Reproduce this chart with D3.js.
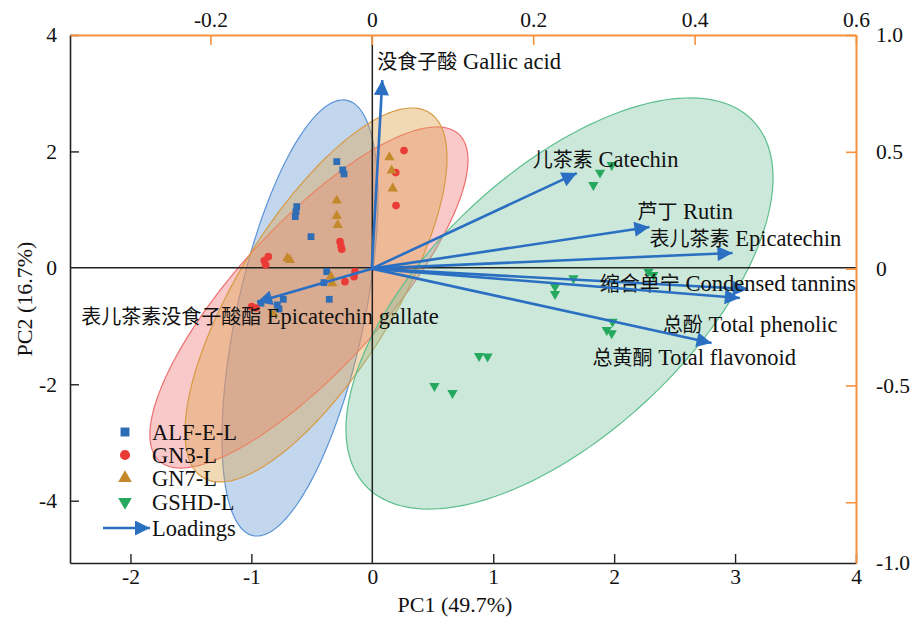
<!DOCTYPE html>
<html>
<head>
<meta charset="utf-8">
<script src="https://cdn.jsdelivr.net/npm/d3@7"></script>
<style>
  body { margin: 0; background: #fff; }
  text { font-family: "Liberation Serif", "Times New Roman", "Noto Sans CJK SC", serif; }
</style>
</head>
<body>
<svg id="chart" width="911" height="617"></svg>
<script>
// scores (PC1, PC2) per group
const groups = ["ALF-E-L", "GN3-L", "GN7-L", "GSHD-L"];
const alfPC1 = [-0.294, -0.245, -0.234, -0.625, -0.631, -0.637, -0.507, -0.377, -0.400, -0.356, -0.736, -0.786, -0.921, -0.772];
const alfPC2 = [1.825, 1.682, 1.613, 1.052, 0.966, 0.880, 0.536, -0.065, -0.254, -0.540, -0.540, -0.637, -0.608, -0.706];
const gn3PC1 = [0.262, 0.194, 0.196, -0.267, -0.259, -0.253, -0.860, -0.893, -0.882, -0.143, -0.151, -0.226, -0.998, -0.962];
const gn3PC2 = [2.014, 1.636, 1.069, 0.450, 0.376, 0.320, 0.192, 0.124, 0.050, -0.065, -0.151, -0.237, -0.667, -0.689];
const gn7PC1 = [0.141, 0.160, 0.169, -0.294, -0.294, -0.286, -0.703, -0.681, -0.342, -0.331, -0.879, -0.817];
const gn7PC2 = [1.900, 1.670, 1.364, 1.155, 0.892, 0.737, 0.165, 0.136, -0.151, -0.265, -0.552, -0.792];
const gshdPC1 = [1.883, 1.980, 1.828, 2.283, 2.324, 1.663, 1.511, 1.511, 1.987, 1.939, 1.980, 0.883, 0.953, 0.514, 0.663];
const gshdPC2 = [1.636, 1.768, 1.424, -0.065, -0.122, -0.179, -0.323, -0.448, -0.924, -1.067, -1.124, -1.514, -1.522, -2.029, -2.149];

// confidence ellipses: centre and shape matrix (PC units)
const ellCx  = [-0.598, -0.524, -0.466, 1.548];
const ellCy  = [-0.861, -0.509, -0.466, -0.612];
const ellSxx = [0.416, 1.730, 1.174, 3.118];
const ellSyy = [14.03, 8.583, 10.32, 12.47];
const ellSxy = [1.332, 3.102, 2.551, 3.811];

// loadings
const loadCn = ["没食子酸", "儿茶素", "芦丁", "表儿茶素", "缩合单宁", "总酚", "总黄酮", "表儿茶素没食子酸酯"];
const loadEn = ["Gallic acid", "Catechin", "Rutin", "Epicatechin", "Condensed tannins", "Total phenolic", "Total flavonoid", "Epicatechin gallate"];
const loadPC1 = [0.013, 0.254, 0.344, 0.447, 0.466, 0.456, 0.421, -0.142];
const loadPC2 = [0.807, 0.409, 0.178, 0.067, -0.087, -0.126, -0.318, -0.143];

const xTicks = [-2, -1, 0, 1, 2, 3, 4];
const yTicks = [-4, -2, 0, 2, 4];
const topTicks = [-0.2, 0, 0.2, 0.4, 0.6];
const rightTicks = [1, 0.5, 0, -0.5, -1];

// label offsets from arrow tip (px)
const labelOffsets = [[-5, -17], [-44, -12], [-12, -14], [-83, -13], [-148, -4], [-77, 28], [-119, 16], [-176, 16]];

const fills   = ["#6ea0d7", "#f07f7f", "#e0a550", "#82c8a7"];
const strokes = ["#5b93d6", "#ee6f6f", "#d69a45", "#5cbf8c"];
const markCol = ["#2f6db5", "#eb3b36", "#c4892b", "#25a95f"];
const arrowCol = "#2a6fc2";
const orange = "#f5923e";

const mLeft = 70, mRight = 856, mTop = 35, mBottom = 563;
const svg = d3.select("#chart");

const x = d3.scaleLinear().domain([-2.5, 4]).range([mLeft, mRight]);
const y = d3.scaleLinear().domain([-5.07, 4]).range([mBottom, mTop]);
const xl = d3.scaleLinear().domain([-0.374, 0.6]).range([mLeft, mRight]);
const yl = d3.scaleLinear().domain([-1.26, 1.0]).range([mBottom, mTop]);

// ellipses
const ellG = svg.append("g");
groups.forEach((g, i) => {
  const a = Math.sqrt(ellSxx[i]);
  const b = ellSxy[i] / a;
  const c = Math.sqrt(ellSyy[i] - b * b);
  const pts = d3.range(0, 2 * Math.PI, Math.PI / 90).map(t => {
    const u = Math.cos(t), v = Math.sin(t);
    return [x(ellCx[i] + a * u), y(ellCy[i] + b * u + c * v)];
  });
  ellG.append("path")
    .attr("d", d3.line().curve(d3.curveLinearClosed)(pts))
    .attr("fill", fills[i])
    .attr("fill-opacity", 0.42)
    .attr("stroke", strokes[i])
    .attr("stroke-width", 1.2);
});

// zero lines
svg.append("line").attr("x1", mLeft).attr("x2", mRight).attr("y1", y(0)).attr("y2", y(0))
  .attr("stroke", "#222").attr("stroke-width", 1.5);
svg.append("line").attr("x1", x(0)).attr("x2", x(0)).attr("y1", mTop).attr("y2", mBottom)
  .attr("stroke", "#222").attr("stroke-width", 1.5);

// points
const symbols = [d3.symbolSquare, d3.symbolCircle, d3.symbolTriangle, d3.symbolTriangle];
const pcX = [alfPC1, gn3PC1, gn7PC1, gshdPC1];
const pcY = [alfPC2, gn3PC2, gn7PC2, gshdPC2];
function marker(sel, i, size) {
  sel.attr("d", d3.symbol().type(symbols[i]).size(size))
    .attr("fill", markCol[i]);
}
groups.forEach((g, i) => {
  svg.append("g").selectAll("path")
    .data(d3.range(pcX[i].length))
    .join("path")
    .call(marker, i, 46)
    .attr("transform", j => `translate(${x(pcX[i][j])},${y(pcY[i][j])})` + (i === 3 ? " rotate(180)" : ""));
});

// arrows
const defs = svg.append("defs");
defs.append("marker")
  .attr("id", "arr")
  .attr("viewBox", "0 0 10 10")
  .attr("refX", 10).attr("refY", 5)
  .attr("markerUnits", "userSpaceOnUse")
  .attr("markerWidth", 23).attr("markerHeight", 15)
  .attr("orient", "auto")
  .append("path").attr("d", "M0,0L10,5L0,10Z").attr("fill", arrowCol);

const arrG = svg.append("g");
loadCn.forEach((n, i) => {
  arrG.append("line")
    .attr("x1", xl(0)).attr("y1", yl(0))
    .attr("x2", xl(loadPC1[i])).attr("y2", yl(loadPC2[i]))
    .attr("stroke", arrowCol).attr("stroke-width", 2.6)
    .attr("marker-end", "url(#arr)");
  const t = arrG.append("text")
    .attr("x", xl(loadPC1[i]) + labelOffsets[i][0])
    .attr("y", yl(loadPC2[i]) + labelOffsets[i][1])
    .attr("dy", "0.35em")
    .attr("fill", "#111");
  t.append("tspan").attr("font-size", 20).attr("font-family", "Noto Sans CJK SC").text(n);
  t.append("tspan").attr("font-size", 22.5).text(" " + loadEn[i]);
});

// axes (plain hyphen for negatives, as in the original)
const fmt = d => d === 0 ? "0" : String(d);
const fmt1 = d => d === 0 ? "0" : d.toFixed(1);

const ax = svg.append("g").attr("transform", `translate(0,${mBottom})`)
  .call(d3.axisBottom(x).tickValues(xTicks).tickFormat(fmt).tickSizeInner(-9).tickSizeOuter(0).tickPadding(6));
const ay = svg.append("g").attr("transform", `translate(${mLeft},0)`)
  .call(d3.axisLeft(y).tickValues(yTicks).tickFormat(fmt).tickSizeInner(-9).tickSizeOuter(0).tickPadding(13));
const at = svg.append("g").attr("transform", `translate(0,${mTop})`)
  .call(d3.axisTop(xl).tickValues(topTicks).tickFormat(fmt1).tickSizeInner(-10).tickSizeOuter(0).tickPadding(8));
const ar = svg.append("g").attr("transform", `translate(${mRight},0)`)
  .call(d3.axisRight(yl).tickValues(rightTicks).tickFormat(fmt1).tickSizeInner(-10).tickSizeOuter(0).tickPadding(20));

[ax, ay].forEach(a => {
  a.select(".domain").attr("stroke", "#222").attr("stroke-width", 1.6);
  a.selectAll(".tick line").attr("stroke", "#222").attr("stroke-width", 1.4);
  a.selectAll("text").attr("font-size", 21.5).attr("fill", "#111")
    .attr("font-family", "Liberation Serif, serif");
});
[at, ar].forEach(a => {
  a.select(".domain").attr("stroke", orange).attr("stroke-width", 2);
  a.selectAll(".tick line").attr("stroke", orange).attr("stroke-width", 1.6);
  a.selectAll("text").attr("font-size", 21.5).attr("fill", "#111")
    .attr("font-family", "Liberation Serif, serif");
});
ay.selectAll(".tick").filter(d => d === 0).select("line").remove();
ax.selectAll(".tick").filter(d => d === 0).select("line").remove();
// bottom label of the right axis sits at the lower edge
ar.selectAll(".tick").filter(d => d === -1).select("text")
  .attr("y", mBottom - yl(-1));

// axis titles
svg.append("text").attr("x", 455).attr("y", 612).attr("text-anchor", "middle")
  .attr("font-size", 22).attr("fill", "#111").text("PC1 (49.7%)");
svg.append("text").attr("transform", `translate(32,${(mTop + mBottom) / 2}) rotate(-90)`)
  .attr("text-anchor", "middle").attr("font-size", 22).attr("fill", "#111").text("PC2 (16.7%)");

// legend
const lg = svg.append("g");
const rowY = [432, 455, 478, 502];
groups.forEach((g, i) => {
  lg.append("path").call(marker, i, 80)
    .attr("transform", `translate(125,${rowY[i]})` + (i === 3 ? " rotate(180)" : ""));
  lg.append("text").attr("x", 152).attr("y", rowY[i]).attr("dy", "0.35em")
    .attr("font-size", 22.5).attr("fill", "#111").text(g);
});
lg.append("line").attr("x1", 103).attr("x2", 150).attr("y1", 528).attr("y2", 528)
  .attr("stroke", arrowCol).attr("stroke-width", 2.6).attr("marker-end", "url(#arr)");
lg.append("text").attr("x", 152).attr("y", 528).attr("dy", "0.35em")
  .attr("font-size", 22.5).attr("fill", "#111").text("Loadings");
</script>
</body>
</html>
